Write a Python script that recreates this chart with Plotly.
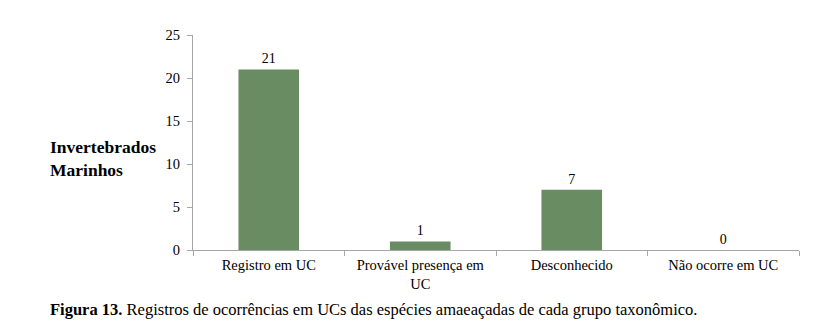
import plotly.graph_objects as go

categories = ["Registro em UC", "Provável presença em<br>UC", "Desconhecido", "Não ocorre em UC"]
values = [21, 1, 7, 0]
y_ticks = [0, 5, 10, 15, 20, 25]

SERIF = "Liberation Serif"
AXIS_GRAY = "#a6a6a6"
BAR_GREEN = "#6a8c63"

fig = go.Figure(
    go.Bar(
        x=categories,
        y=values,
        marker=dict(color=BAR_GREEN, line=dict(width=0)),
        text=[str(v) for v in values],
        textposition="outside",
        textfont=dict(family=SERIF, size=14, color="#000"),
        cliponaxis=False,
    )
)

fig.update_layout(
    width=835,
    height=333,
    margin=dict(l=193, r=36, t=35, b=83),
    paper_bgcolor="white",
    plot_bgcolor="white",
    bargap=0.6,
    showlegend=False,
    font=dict(family=SERIF, size=14, color="#000"),
)

fig.update_xaxes(
    type="category",
    showline=True,
    linecolor=AXIS_GRAY,
    linewidth=1,
    ticks="outside",
    tickson="boundaries",
    ticklen=5,
    tickcolor=AXIS_GRAY,
    showgrid=False,
    ticklabelstandoff=2,
    tickfont=dict(family=SERIF, size=14.5, color="#000"),
)

fig.update_yaxes(
    range=[0, 25],
    tickvals=y_ticks,
    showline=True,
    linecolor=AXIS_GRAY,
    linewidth=1,
    ticks="outside",
    ticklen=5,
    tickcolor=AXIS_GRAY,
    showgrid=False,
    zeroline=False,
    ticklabelstandoff=4,
    tickfont=dict(family=SERIF, size=14.5, color="#000"),
)

# group name on the left
fig.add_annotation(
    text="<b>Invertebrados<br>Marinhos</b>",
    xref="paper", yref="paper",
    x=(48 - 193) / 606, y=(250 - 158) / 215,
    xanchor="left", yanchor="middle",
    align="left",
    showarrow=False,
    font=dict(family=SERIF, size=17.5, color="#000"),
)

# figure caption
fig.add_annotation(
    text="<b>Figura 13.</b> Registros de ocorrências em UCs das espécies amaeaçadas de cada grupo taxonômico.",
    xref="paper", yref="paper",
    x=(48 - 193) / 606, y=-(309 - 250) / 215,
    xanchor="left", yanchor="middle",
    showarrow=False,
    font=dict(family=SERIF, size=16.5, color="#000"),
)

fig.write_html("out.html")
